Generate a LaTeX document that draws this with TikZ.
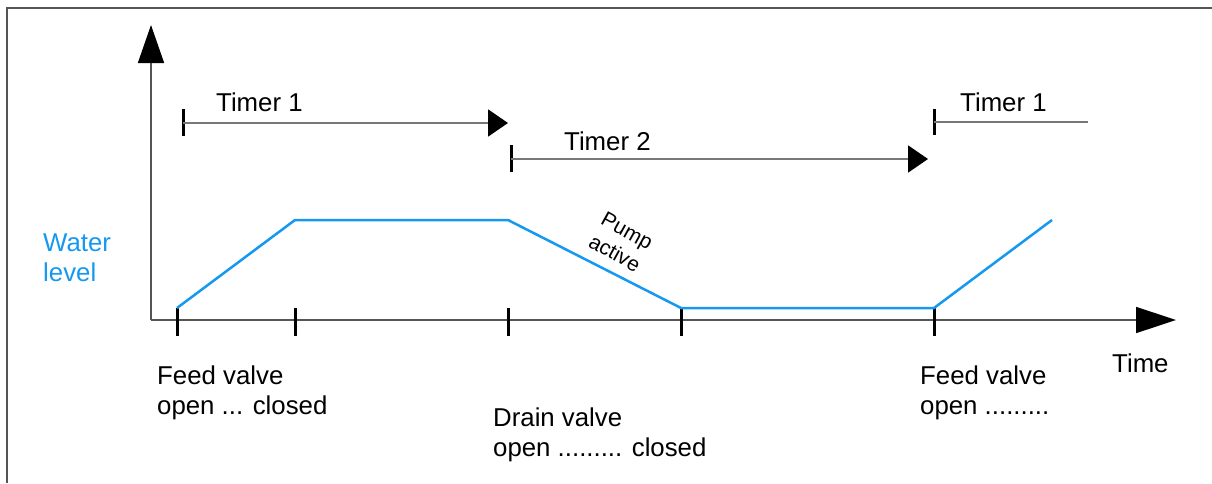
\documentclass[tikz,border=0pt]{standalone}
\usepackage{fontspec}
\setmainfont{Liberation Sans}
\usetikzlibrary{arrows.meta}
\definecolor{wblue}{RGB}{20,152,240}
\definecolor{axisgray}{RGB}{85,85,85}
\definecolor{timergray}{RGB}{120,120,120}
\begin{document}
\begin{tikzpicture}[x=1pt,y=-1pt,
  axis/.style={draw=axisgray,line width=1.5pt},
  timerline/.style={draw=timergray,line width=2pt},
  tickmark/.style={draw=black,line width=3pt},
  level/.style={draw=wblue,line width=2.5pt,line join=round},
  lbl/.style={inner sep=0pt,font=\fontsize{25.8}{29.5}\selectfont,align=left},
  pumplbl/.style={inner sep=0pt,font=\fontsize{21}{25.5}\selectfont,align=center},
]
\useasboundingbox (0,0) rectangle (1212,483);
% frame
\draw[axis] (1212,8) -- (7,8) -- (7,483);

% axes
\coordinate (O) at (151,320);
\coordinate (ytip) at (151,25);
\coordinate (xtip) at (1176,320);
\draw[axis,-{Triangle[length=38pt,width=26pt,color=black]}] (O) -- (ytip);
\draw[axis,-{Triangle[length=40pt,width=26pt,color=black]}] (O) -- (xtip);

% ticks on time axis
\foreach \n/\x in {a/177,b/295,c/508,d/681,e/934}{
  \coordinate (tick\n top) at (\x,308);
  \coordinate (tick\n bot) at (\x,336);
  \draw[tickmark] (tick\n top) -- (tick\n bot);
}

% water level
\coordinate (L0) at (177,308);
\coordinate (L1) at (295,220);
\coordinate (L2) at (508,220);
\coordinate (L3) at (681,308);
\coordinate (L4) at (934,308);
\coordinate (L5) at (1052,220);
\draw[level] (L0) -- (L1) -- (L2) -- (L3) -- (L4) -- (L5);

% timer 1
\coordinate (T1s) at (183,123);
\coordinate (T1e) at (508,123);
\coordinate (T1a) at (183,109);
\coordinate (T1b) at (183,136);
\draw[tickmark] (T1a) -- (T1b);
\draw[timerline,-{Triangle[length=20pt,width=27pt,color=black]}] (T1s) -- (T1e);

% timer 2
\coordinate (T2s) at (511,159);
\coordinate (T2e) at (928,159);
\coordinate (T2a) at (511,145);
\coordinate (T2b) at (511,172);
\draw[tickmark] (T2a) -- (T2b);
\draw[timerline,-{Triangle[length=20pt,width=27pt,color=black]}] (T2s) -- (T2e);

% timer 1 again
\coordinate (T3s) at (934,122);
\coordinate (T3e) at (1088,122);
\coordinate (T3a) at (934,109);
\coordinate (T3b) at (934,135);
\draw[tickmark] (T3a) -- (T3b);
\draw[timerline] (T3s) -- (T3e);

% labels
\node[lbl,anchor=base west] (timer1) at (216,111) {Timer 1};
\node[lbl,anchor=base west] (timer2) at (564,150) {Timer 2};
\node[lbl,anchor=base west] (timer1b) at (960,111) {Timer 1};
\node[lbl,anchor=north west,text=wblue] (water) at (43,234) {Water\\level};
\node[pumplbl,rotate=-29] (pump) at (621,242) {Pump\\active};
\node[lbl,anchor=north west] (feed1) at (157,366) {Feed valve\\open ... closed};
\node[lbl,anchor=north west] (drain) at (493,408) {Drain valve\\open ......... closed};
\node[lbl,anchor=north west] (feed2) at (920,366) {Feed valve\\open .........};
\node[lbl,anchor=base west] (time) at (1112,372) {Time};
\end{tikzpicture}
\end{document}
